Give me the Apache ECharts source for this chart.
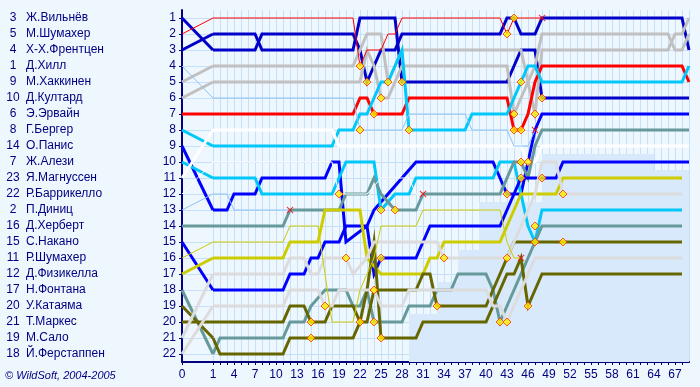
<!DOCTYPE html>
<html><head><meta charset="utf-8">
<script src="https://cdn.jsdelivr.net/npm/echarts@6/dist/echarts.min.js"></script>
<style>html,body{margin:0;padding:0;background:#eef6fe}#c{width:700px;height:387px}</style>
</head><body><div id="c"></div><script>
// ---- data ----
const gridNums = [3,5,4,1,9,10,6,8,14,7,23,22,2,16,15,11,12,17,20,21,19,18];
const gridNames = ['Ж.Вильнёв','М.Шумахер','Х-Х.Френтцен','Д.Хилл','М.Хаккинен','Д.Култард','Э.Эрвайн','Г.Бергер','О.Панис','Ж.Алези','Я.Магнуссен','Р.Баррикелло','П.Диниц','Д.Херберт','С.Накано','Р.Шумахер','Д.Физикелла','Н.Фонтана','У.Катаяма','Т.Маркес','М.Сало','Й.Ферстаппен'];
const posTicks = [1,2,3,4,5,6,7,8,9,10,11,12,13,14,15,16,17,18,19,20,21,22];

// [lap, position] points
const villeneuve = [[0,1],[1,3],[7,3],[8,2],[21,2],[22,3],[23,5],[24,4],[25,3],[27,3],[28,2],[42,2],[43,1],[44,1],[45,2],[47,2],[48,1],[68,1],[69,3]];
const mSchumacher = [[0,2],[1,1],[21,1],[22,4],[23,3],[25,3],[26,2],[27,2],[28,1],[42,1],[43,2],[44,1],[48,1]];
const frentzen = [[0,3],[1,2],[7,2],[8,3],[21,3],[22,1],[27,1],[28,5],[43,5],[44,4],[45,3],[47,3],[48,6],[69,6]];
const hill = [[0,4],[1,6],[21,6],[22,8],[28,8],[29,7],[37,7],[38,8],[43,8],[44,9],[46,9],[47,8]];
const hakkinen = [[0,5],[1,4],[21,4],[22,3],[23,2],[25,2],[26,5],[27,4],[28,3],[45,3],[46,5],[47,7],[48,3],[66,3],[67,2],[68,2],[69,1]];
const coulthard = [[0,6],[1,5],[22,5],[23,3],[24,4],[25,6],[26,6],[27,5],[28,4],[43,4],[44,7],[45,6],[46,5],[47,4],[48,2],[66,2],[67,3],[68,3],[69,2]];
const irvine = [[0,7],[1,7],[21,7],[22,6],[23,6],[24,7],[28,7],[29,6],[43,6],[44,8],[45,8],[46,7],[47,5],[48,4],[68,4],[69,5]];
const berger = [[0,8],[1,9],[18,9],[19,8],[21,8],[22,7],[23,7],[24,6],[25,5],[26,5],[27,4],[28,3],[29,8],[37,8],[38,7],[43,7],[44,6],[45,5],[46,4],[47,4],[48,5],[68,5],[69,4]];
const panis = [[0,9],[1,13],[3,13],[4,12],[7,12],[8,11],[17,11],[18,10],[19,10],[20,15],[23,14],[24,13],[26,12],[28,11],[30,10],[41,10],[42,11],[43,12],[45,12],[46,10],[47,8],[48,7],[69,7]];
const alesi = [[0,10],[1,11],[7,11],[8,12],[18,12],[19,11],[20,10],[24,10],[25,13],[27,12],[29,12],[30,11],[41,11],[42,10],[44,10],[45,12],[46,14],[47,15],[48,13],[68,13]];
const magnussen = [[0,11],[1,8],[18,8],[19,9],[45,9],[46,10],[47,10],[48,9],[69,9]];
const barrichello = [[0,12],[1,10],[18,10],[19,12],[23,12],[25,11],[29,11],[30,12],[31,12]];
const diniz = [[0,13],[1,12],[3,12],[4,13],[12,13]];
const herbert = [[0,14],[1,14],[11,14],[12,13],[19,13],[20,12],[23,12],[24,11],[25,12],[27,13],[30,13],[31,12],[42,12],[43,11],[44,10],[45,10],[46,11],[47,9],[48,8],[69,8]];
const nakano = [[0,15],[1,18],[11,18],[12,17],[14,17],[15,16],[16,16],[17,15],[19,15],[20,14],[23,14],[24,17],[25,16],[30,16],[31,15],[32,14],[42,14],[43,13],[44,12],[45,11],[48,11],[50,11],[51,10],[69,10]];
const rSchumacher = [[0,16],[1,15],[11,15],[12,14],[16,14],[17,17],[18,20],[21,20],[22,18],[23,17],[24,16],[25,14],[30,14],[31,13],[42,13],[43,15],[44,16],[45,16]];
const fisichella = [[0,17],[1,16],[11,16],[12,15],[16,15],[17,13],[22,13],[23,16],[25,17],[31,17],[32,16],[33,16],[34,15],[42,15],[43,14],[44,13],[45,12],[50,12],[51,11],[68,11]];
const fontana = [[0,18],[1,22],[2,21],[11,21],[12,20],[14,20],[15,19],[17,18],[20,18],[21,19],[22,19],[23,18],[24,20],[28,20],[29,19],[32,19],[33,18],[35,18],[36,17],[40,17],[41,18],[42,20],[43,19],[44,18],[45,17],[46,16],[47,15],[48,14],[68,14]];
const katayama = [[0,19],[1,21],[2,22],[11,22],[12,21],[15,21],[21,21],[22,20],[23,18],[24,15],[25,21],[30,21],[31,20],[40,20],[41,19],[42,18],[43,17],[44,17],[45,16],[46,19],[47,18],[48,17],[68,17]];
const marques = [[0,20],[1,20],[11,20],[12,19],[14,19],[15,20],[17,20],[18,19],[21,19],[22,20],[23,20],[24,18],[30,18],[31,17],[32,17],[33,19],[40,19],[41,18],[42,17],[43,16],[44,15],[68,15]];
const salo = [[0,21],[1,17],[11,17],[12,16],[14,16],[15,17],[16,17],[17,16],[20,16],[21,17],[23,16],[24,15],[33,15],[34,16],[43,16],[44,15],[45,14],[46,13],[47,12],[48,10],[50,10],[51,12],[68,12]];
const verstappen = [[0,22],[1,19],[11,19],[12,18],[16,18],[17,19],[18,19],[19,18],[24,18],[25,19],[28,19],[29,18],[40,18],[41,19],[42,19],[43,20],[44,19],[45,18],[46,17],[47,16],[68,16]];

const pitStops = [[15,20],[15,21],[17,19],[19,12],[20,16],[22,4],[22,8],[22,20],[23,5],[24,7],[24,18],[24,20],[25,6],[25,13],[25,16],[25,21],[26,5],[27,13],[28,5],[29,8],[33,19],[34,16],[42,20],[43,2],[43,12],[43,16],[43,20],[44,1],[44,7],[44,8],[45,5],[45,8],[45,10],[45,11],[46,10],[46,19],[47,7],[47,14],[47,15],[48,6],[48,11],[51,12],[51,15]];
const retirements = [[12,13],[31,12],[45,16],[47,8],[48,1]];
const lappedTop = [[29,19.5],[33,17.5],[36,15.5],[39,12.5],[48,9.5],[64,10.5],[69,10.5]];

// ---- styles ----
const NAVY = '#000080';
const styles = [
  [villeneuve,'#0000c8',3],[mSchumacher,'#ff0000',1],[frentzen,'#0000c8',3],[hill,'#8cc4f4',1],
  [hakkinen,'#c0c0c0',3],[coulthard,'#c0c0c0',3],[irvine,'#ff0000',3],[berger,'#00c8f8',3],
  [panis,'#0000ff',3],[alesi,'#00c8f8',3],[magnussen,'#ffffff',3],[barrichello,'#ffffff',1],
  [diniz,'#8cc4f4',1],[herbert,'#669999',3],[nakano,'#0000ff',3],[rSchumacher,'#cccc00',1],
  [fisichella,'#cccc00',3],[fontana,'#669999',3],[katayama,'#666600',3],[marques,'#666600',3],
  [salo,'#dcdcdc',3],[verstappen,'#dcdcdc',3]
];

const chart = echarts.init(document.getElementById('c'), null, {renderer:'canvas'});
const series = [];
series.push({type:'line', xAxisIndex:1, yAxisIndex:2, data:lappedTop, step:'end', showSymbol:false, silent:true,
  lineStyle:{width:0}, areaStyle:{color:'#d8e9fb', origin:'end', opacity:1}, z:1});
// draw thin lines last-ish: thick first
const order = styles.map((s,i)=>i).sort((a,b)=>styles[b][2]-styles[a][2]);
order.forEach(i=>{
  const [pts,color,w] = styles[i];
  const common = {type:'line', showSymbol:false, silent:true, animation:false,
    lineStyle:{color, width:w, join:'miter', cap:'butt'}, z: w>1?3:4};
  series.push(Object.assign({}, common, {xAxisIndex:0, yAxisIndex:0, data: pts.filter(p=>p[0]<=1)}));
  series.push(Object.assign({}, common, {xAxisIndex:1, yAxisIndex:2, data: pts.filter(p=>p[0]>=1)}));
});
series.push({type:'scatter', xAxisIndex:1, yAxisIndex:2, data:pitStops, symbol:'diamond', symbolSize:8,
  itemStyle:{color:'#ffee00', borderColor:'#ff3300', borderWidth:1}, z:6, silent:true});
series.push({type:'scatter', xAxisIndex:1, yAxisIndex:2, data:retirements,
  symbol:'path://M0,1L1,0L10,9L9,10Z M9,0L10,1L1,10L0,9Z', symbolSize:7,
  itemStyle:{color:'#ff0000'}, z:6, silent:true});

const FONT = 'Liberation Sans, Arial, sans-serif';
const splitColor = '#c6e0f8';
chart.setOption({
  backgroundColor:'#eef6fe',
  animation:false,
  grid:[{left:182, top:10, width:31, height:352}, {left:213, top:10, width:476, height:352}],
  xAxis:[
    {type:'value', gridIndex:0, min:0, max:1, interval:1,
     axisLine:{lineStyle:{color:NAVY, width:2}}, axisTick:{show:true, length:3, lineStyle:{color:NAVY}},
     axisLabel:{color:NAVY, fontFamily:FONT, fontSize:12, margin:7, formatter:v=> v===0?'0':''},
     splitLine:{show:false}},
    {type:'value', gridIndex:1, min:1, max:69, interval:1,
     axisLine:{lineStyle:{color:NAVY, width:2}}, axisTick:{show:true, length:3, lineStyle:{color:NAVY}},
     axisLabel:{color:NAVY, fontFamily:FONT, fontSize:12, margin:7, interval:0, showMaxLabel:false,
       formatter:v=> ((v-1)%3===0 ? String(v) : '')},
     splitLine:{show:true, lineStyle:{color:splitColor, width:1}}}
  ],
  yAxis:[
    {type:'value', gridIndex:0, min:0.5, max:22.5, inverse:true,
     axisLine:{show:true, lineStyle:{color:NAVY, width:2}},
     axisTick:{show:true, length:3, customValues:posTicks, lineStyle:{color:NAVY}},
     axisLabel:{customValues:posTicks, color:NAVY, fontFamily:FONT, fontSize:12, margin:6},
     splitLine:{show:true, lineStyle:{color:splitColor}}},
    {type:'value', gridIndex:0, min:0.5, max:22.5, inverse:true, position:'left',
     axisLine:{show:false}, axisTick:{show:false, customValues:posTicks},
     axisLabel:{customValues:posTicks, align:'left', margin:177, color:NAVY, fontFamily:FONT, fontSize:12,
       formatter:v=> '{n|'+gridNums[v-1]+'}{t|'+gridNames[v-1]+'}',
       rich:{n:{width:16, align:'right', color:NAVY, fontFamily:FONT, fontSize:12},
             t:{padding:[0,0,0,5], color:NAVY, fontFamily:FONT, fontSize:12}}},
     splitLine:{show:false}},
    {type:'value', gridIndex:1, min:0.5, max:22.5, inverse:true,
     axisLine:{show:false}, axisTick:{show:false, customValues:posTicks},
     axisLabel:{show:false, customValues:posTicks},
     splitLine:{show:true, lineStyle:{color:splitColor}}}
  ],
  graphic:[{type:'text', left:5, top:370, style:{text:'© WildSoft, 2004-2005', fill:NAVY,
    font:'italic 11px '+FONT}}],
  series
});
</script></body></html>
